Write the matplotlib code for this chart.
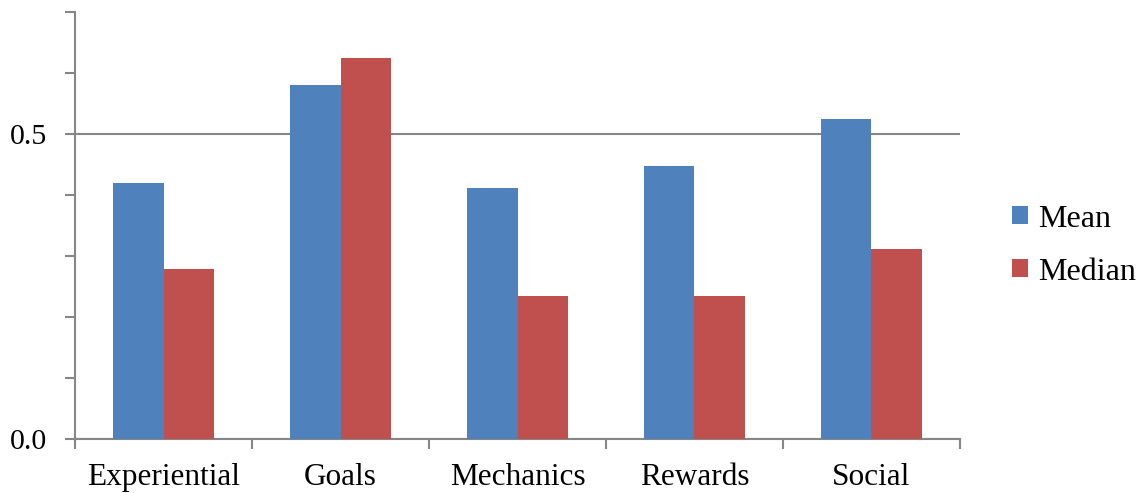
import matplotlib.pyplot as plt
import numpy as np
from matplotlib.ticker import MultipleLocator

categories = ['Experiential', 'Goals', 'Mechanics', 'Rewards', 'Social']
mean_vals = [0.420, 0.580, 0.411, 0.448, 0.525]
median_vals = [0.279, 0.625, 0.234, 0.234, 0.311]

plt.rcParams['font.family'] = ['Liberation Serif', 'DejaVu Serif']

fig = plt.figure(figsize=(11.4, 4.93), dpi=100)
ax = fig.add_axes([0.0658, 0.1095, 0.7763, 0.866])

x = np.arange(len(categories))
w = 0.283
ax.bar(x - w / 2, mean_vals, w, color='#4F81BD', label='Mean', zorder=3)
ax.bar(x + w / 2, median_vals, w, color='#C0504D', label='Median', zorder=3)

gray = '#868686'
ax.set_xlim(-0.5, len(categories) - 0.5)
ax.set_ylim(0, 0.7)

# eje y: etiquetas solo en 0.0 y 0.5, marcas menores cada 0.1
ax.yaxis.set_major_locator(MultipleLocator(0.5))
ax.yaxis.set_minor_locator(MultipleLocator(0.1))
ax.yaxis.set_major_formatter(lambda v, p: f'{v:.1f}')
ax.grid(axis='y', which='major', color=gray, linewidth=1.5, zorder=0)

# eje x: marcas entre categorías
ax.set_xticks(np.arange(len(categories) + 1) - 0.5, minor=True)
ax.set_xticks(x)
ax.set_xticklabels(categories)
ax.tick_params(axis='x', which='major', length=0, pad=17, labelsize=22.5)
ax.tick_params(axis='x', which='minor', length=7, width=1.5, color=gray)
ax.tick_params(axis='y', which='both', length=7, width=1.5, color=gray, labelsize=21.5, pad=13)

for s in ['top', 'right']:
    ax.spines[s].set_visible(False)
for s in ['left', 'bottom']:
    ax.spines[s].set_color(gray)
    ax.spines[s].set_linewidth(1.5)

ax.legend(loc='center left', bbox_to_anchor=(1.059, 0.453), frameon=False, fontsize=23,
          borderpad=0, borderaxespad=0,
          handlelength=0.5, handleheight=0.5, handletextpad=0.3, labelspacing=0.75)

plt.savefig('out.png', dpi=100)
